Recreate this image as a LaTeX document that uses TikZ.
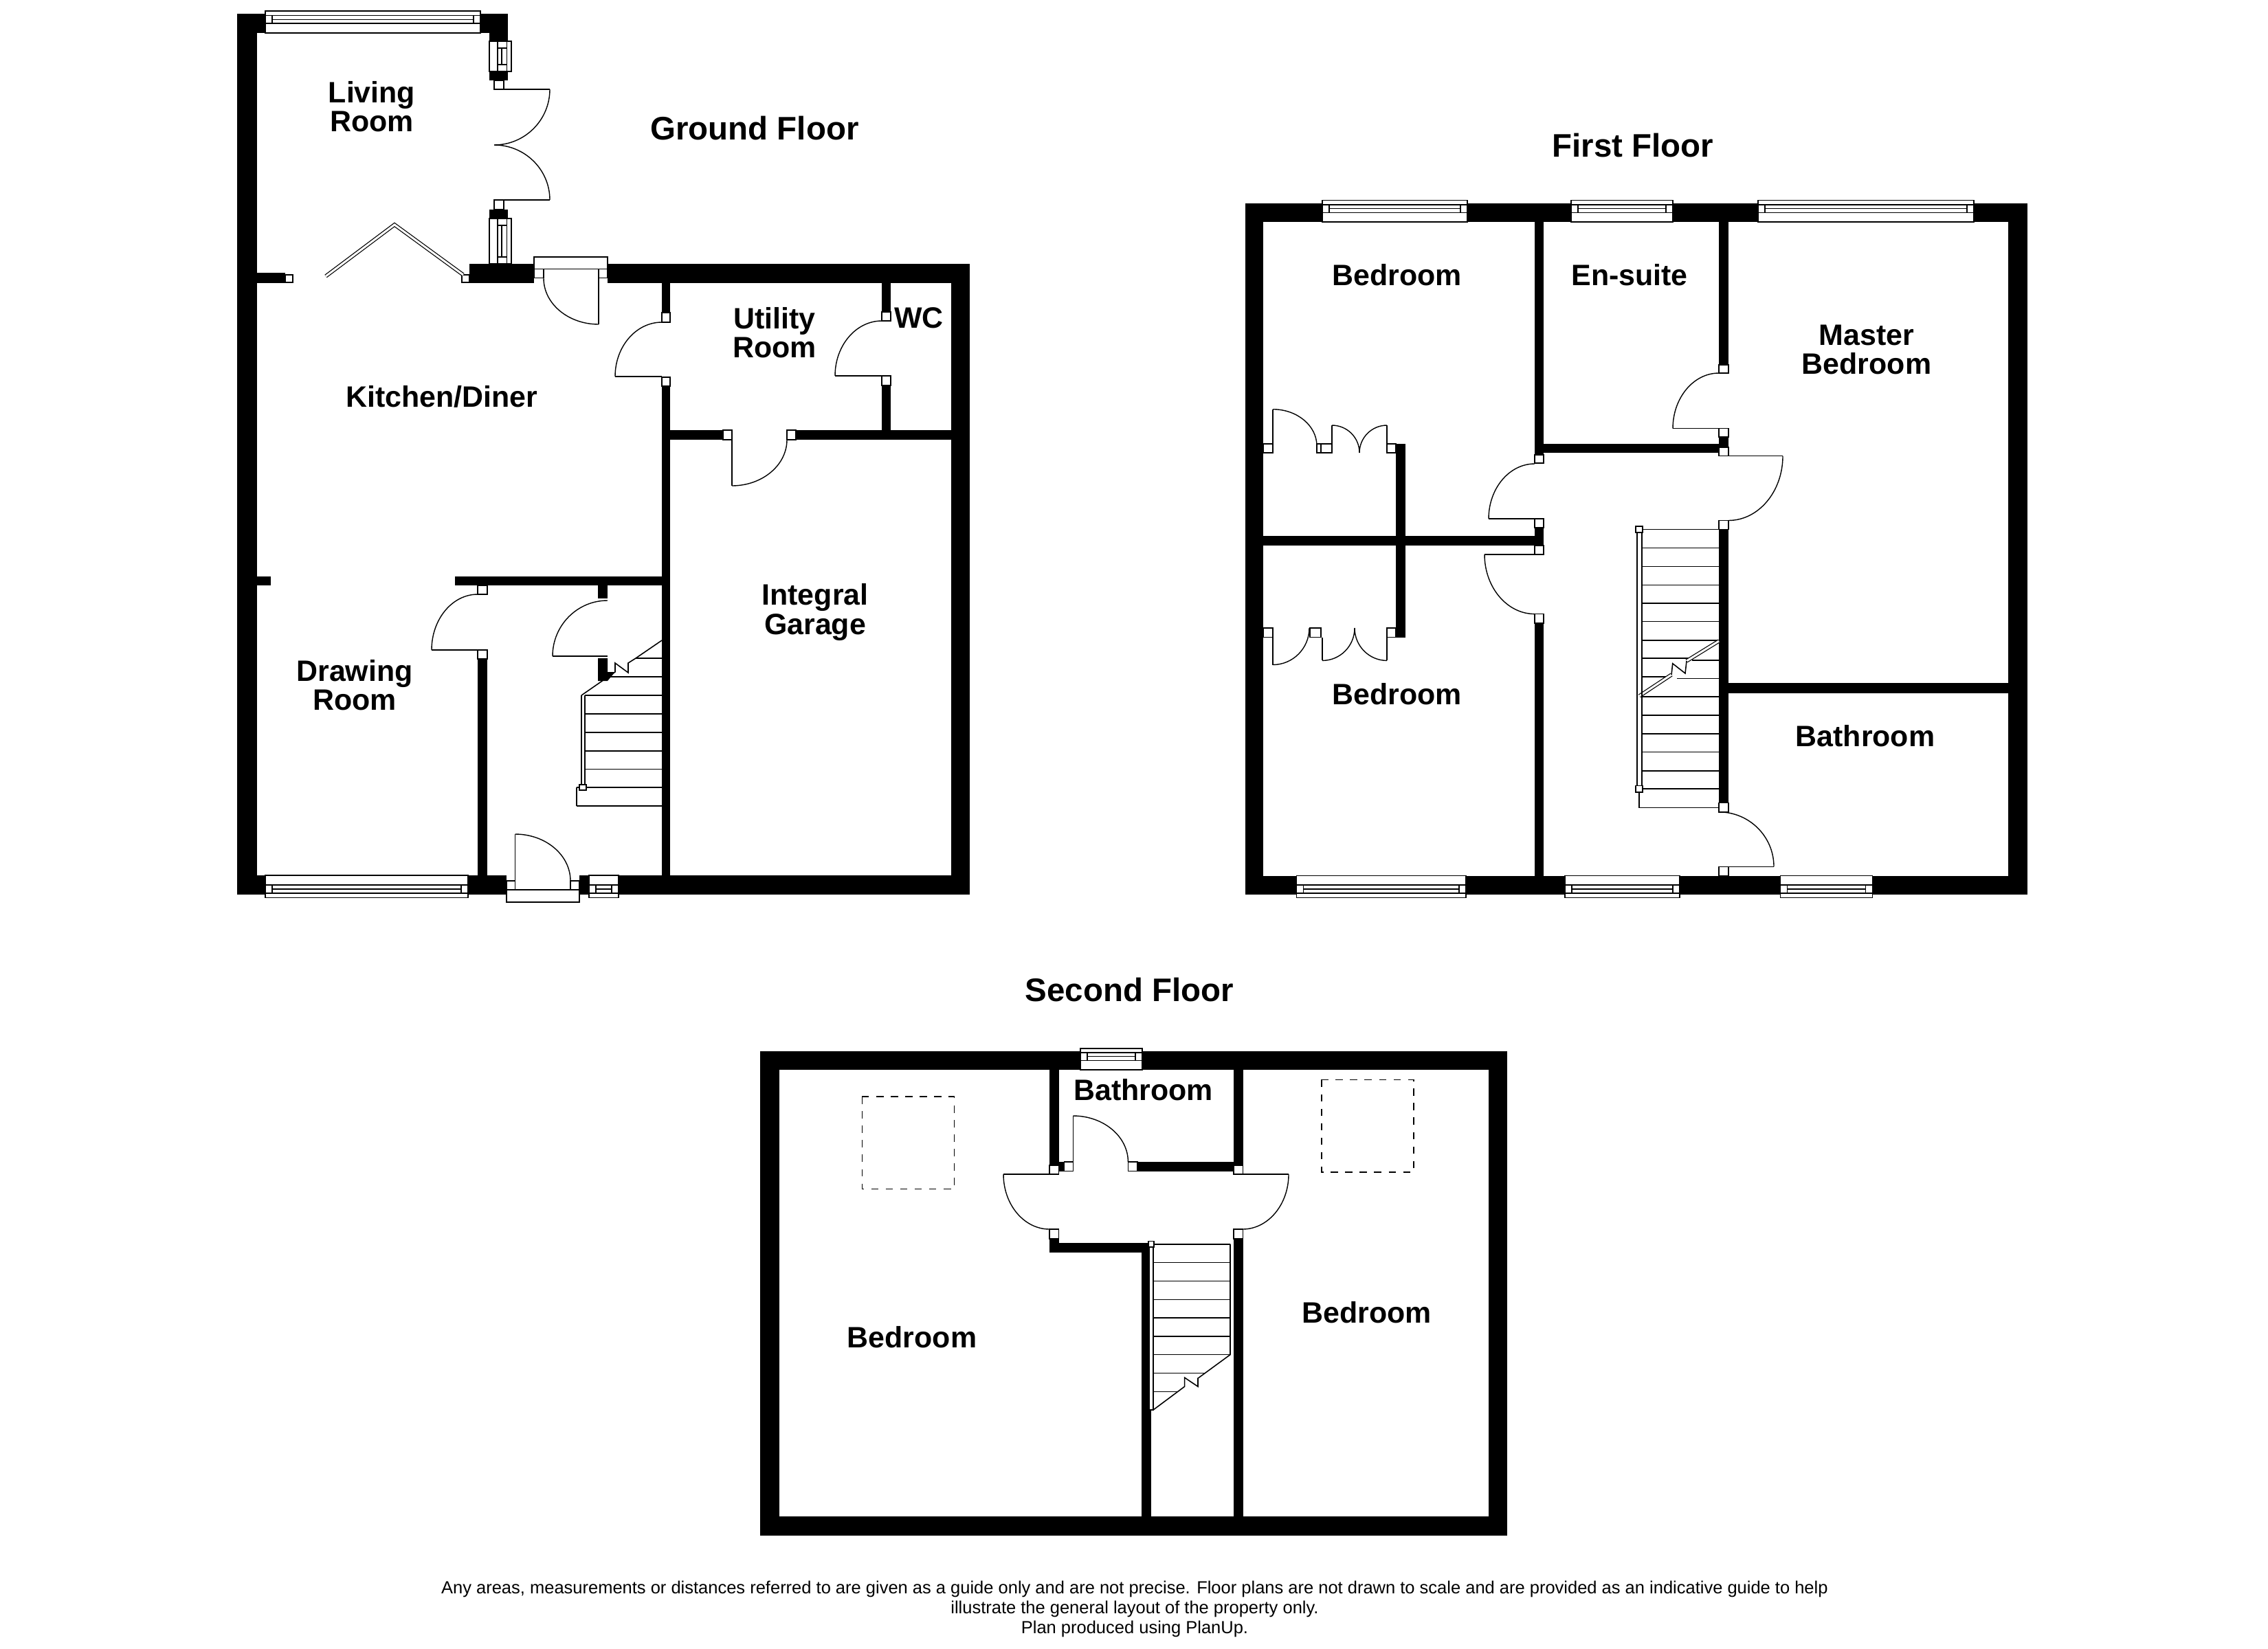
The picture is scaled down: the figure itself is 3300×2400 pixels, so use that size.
\documentclass[tikz,border=0pt]{standalone}
\usepackage{fontspec}
\setmainfont{Liberation Sans}
\usetikzlibrary{positioning}
\tikzset{
  wall/.style={fill=black,draw=none},
  jamb/.style={fill=white,draw=black,line width=0.4pt},
  leaf/.style={draw=black,line width=0.4pt},
  winframe/.style={fill=white,draw=black,line width=0.45pt},
  winline/.style={draw=black,line width=0.45pt},
  tread/.style={draw=black,line width=0.45pt},
  dbl/.style={draw=black,line width=0.35pt,double=white,double distance=0.03cm,miter limit=10},
  skylight/.style={draw=black,line width=0.35pt,dashed},
  roomlabel/.style={inner sep=0pt,align=center,font=\bfseries\fontsize{12.2pt}{11.95pt}\selectfont},
  floortitle/.style={inner sep=0pt,font=\bfseries\fontsize{13.5pt}{16pt}\selectfont},
  footnote/.style={inner sep=0pt,align=center,font=\fontsize{7.25pt}{8.3pt}\selectfont}
}
% quarter swing of a door, flat at the first point, upright at the second
\newcommand{\swing}[4]{\draw[leaf] (#1,#2) .. controls ({#1+0.552*(#3-#1)},#2) and (#3,{#4+0.552*(#2-#4)}) .. (#3,#4);}
% window in a horizontal wall: x1 x2 yinside youtside
\newcommand{\winH}[4]{%
  \pgfmathsetmacro{\wa}{#3+0.43*(#4-#3)}%
  \pgfmathsetmacro{\wb}{#3+0.615*(#4-#3)}%
  \pgfmathsetmacro{\wc}{#3+0.8*(#4-#3)}%
  \filldraw[winframe] (#1,#3) rectangle (#2,#4);
  \draw[winline] (#1,\wa) -- (#2,\wa) (#1,\wc) -- (#2,\wc) ({#1+10},\wa) -- ({#1+10},\wc)
    ({#2-10},\wa) -- ({#2-10},\wc) ({#1+10},\wb) -- ({#2-10},\wb);
}
% window in an upright wall: y1 y2 xinside xoutside
\newcommand{\winV}[4]{%
  \pgfmathsetmacro{\wa}{#3+0.38*(#4-#3)}%
  \pgfmathsetmacro{\wb}{#3+0.56*(#4-#3)}%
  \pgfmathsetmacro{\wc}{#3+0.8*(#4-#3)}%
  \filldraw[winframe] (#3,#1) rectangle (#4,#2);
  \draw[winline] (\wa,#1) -- (\wa,#2) (\wc,#1) -- (\wc,#2) (\wa,{#1+10}) -- (\wc,{#1+10})
    (\wa,{#2-10}) -- (\wc,{#2-10}) (\wb,{#1+10}) -- (\wb,{#2-10});
}
\begin{document}
\begin{tikzpicture}[x=0.01cm,y=-0.01cm]
  \useasboundingbox (0,0) rectangle (3300,2400);
  \fill[white] (0,0) rectangle (3300,2400);

  % walls, ground floor
  \foreach \xa/\ya/\xb/\yb in {345/20/373.5/1302, 373.5/20/739/48, 712/48/739/117, 712/305/739/384,
      683/384/777/412, 884/384/1411/412, 1384/412/1411/1302, 373.5/1274/737/1302, 843/1274/1411/1302,
      373.5/397/415/412, 963/412/975/455, 963/562/975/1274, 1283/412/1296/454, 1283/561/1296/626,
      975/626/1052/640, 1158/626/1384/640, 373.5/839/394/852, 662/839/963/852, 695/959/709/1274,
      870/852/884/871}
    \fill[wall] (\xa,\ya) rectangle (\xb,\yb);
  \fill[wall] (870,958) -- (884,958) -- (884,978) -- (895,978) -- (884,991) -- (870,991) -- cycle;
  % walls, first floor
  \foreach \xa/\ya/\xb/\yb in {1811.5/295.7/2949.5/323, 1811.5/323/1838/1302, 2922/323/2949.5/1302,
      1838/1274.6/2922/1302, 2233/323/2246/662, 2246/646/2501/659, 2501/636/2515/651, 2501/323/2515/531,
      2501/770.7/2515/1168.6, 2233/768/2246/794, 1838/780/2246/794, 2233/907/2246/1274.6,
      2031/646/2045/927.5, 2515/994/2922/1008.6}
    \fill[wall] (\xa,\ya) rectangle (\xb,\yb);
  % walls, second floor
  \foreach \xa/\ya/\xb/\yb in {1105.7/1530/2193/1556.8, 1105.7/1556.8/1133.6/2234.5, 2165.7/1556.8/2193/2234.5,
      1133.6/2207/2165.7/2234.5, 1527/1557/1540.7/1696, 1795/1557/1808.6/1696, 1527/1803/1540.7/1823.4,
      1527/1809/1671/1823.4, 1795/1803/1808.6/2207, 1660.7/1823/1675/2207, 1540.7/1691/1548.6/1704.5,
      1655/1691/1795/1704.5}
    \fill[wall] (\xa,\ya) rectangle (\xb,\yb);

  % door jambs
  \foreach \xa/\ya/\xb/\yb in {719/117/733/130, 719/291/733/305, 777/391.5/791/404.5, 871/391.5/884/404.5,
      415/400/426/411, 672/400/683/411, 963/455/975/469, 963/549/975/562, 1283/454/1296/467, 1283/547/1296/561,
      1052/626/1065/640, 1145/626/1158/640, 695/852/709/865, 695/946/709/959, 737/1282/749.5/1295, 830/1282/843/1295,
      1838/646/1852/659, 1916/646/1922/659, 1922/646/1938/659, 2018/646/2031/659, 1838/914/1852/927.5,
      1906/914/1922/927.5, 2018/914/2031/927.5, 2233/662/2246/674, 2233/755/2246/768, 2233/794/2246/807,
      2233/893.6/2246/907, 2501/531/2515/543, 2501/623.6/2515/636, 2501/651/2515/663.6, 2501/757.5/2515/770.7,
      2501/1168.6/2515/1181.8, 2501/1261.4/2515/1274.6,
      1527/1696/1540.7/1709, 1795/1696/1808.6/1709, 1527/1789/1540.7/1803, 1795/1789/1808.6/1803,
      1548.6/1691/1561.4/1704.5, 1641.4/1691/1655/1704.5}
    \filldraw[jamb] (\xa,\ya) rectangle (\xb,\yb);
  \filldraw[jamb] (777,374) rectangle (884,391.5);
  \filldraw[jamb] (737,1295) rectangle (843,1313);

  % door leaves, ground floor
  \draw[leaf] (733,130) -- (800,130) (733,291) -- (800,291);
  \swing{719}{211}{800}{130} \swing{719}{211}{800}{291}
  \draw[leaf] (871,391.5) -- (871,472);        \swing{871}{472}{791}{405}
  \draw[leaf] (895,548) -- (963,548);          \swing{963}{469}{895}{548}
  \draw[leaf] (1215,547) -- (1283,547);        \swing{1283}{467}{1215}{547}
  \draw[leaf] (1065,640) -- (1065,707);        \swing{1065}{707}{1145}{640}
  \draw[leaf] (628,946) -- (695,946);          \swing{695}{865}{628}{946}
  \draw[leaf] (804,955) -- (884,955);          \swing{884}{874}{804}{955}
  \draw[leaf] (749.5,1295) -- (749.5,1214);    \swing{749.5}{1214}{830}{1282}
  \draw[dbl] (474,402) -- (574,327) -- (674,400);
  % door leaves, first floor
  \draw[leaf] (2434,623.6) -- (2501,623.6);    \swing{2501}{543}{2434}{623.6}
  \draw[leaf] (2515,663.6) -- (2594,663.6);    \swing{2515}{757.5}{2594}{663.6}
  \draw[leaf] (2581,1261.4) -- (2515,1261.4);  \swing{2501}{1181.8}{2581}{1261.4}
  \draw[leaf] (2166,755) -- (2233,755);        \swing{2233}{675}{2166}{755}
  \draw[leaf] (2160,806.8) -- (2233,806.8);    \swing{2233}{893.6}{2160}{806.8}
  \draw[leaf] (1852,646) -- (1852,595.7);      \swing{1852}{595.7}{1916}{649}
  \draw[leaf] (1938,646) -- (1938,619);        \swing{1938}{619}{1978}{659}
  \draw[leaf] (2018,646) -- (2018,619);        \swing{2018}{619}{1978}{659}
  \draw[leaf] (1852,927.5) -- (1852,967.5);    \swing{1852}{967.5}{1905}{914}
  \draw[leaf] (1924,927.5) -- (1924,961.4);    \swing{1924}{961.4}{1971}{914}
  \draw[leaf] (2018,927.5) -- (2018,961.4);    \swing{2018}{961.4}{1971}{914}
  % door leaves, second floor
  \draw[leaf] (1527,1709) -- (1460,1709);      \swing{1527}{1789}{1460}{1709}
  \draw[leaf] (1808.6,1709) -- (1875,1709);    \swing{1808}{1789}{1875}{1709}
  \draw[leaf] (1561.4,1691) -- (1561.4,1624);  \swing{1561.4}{1624}{1641.4}{1691}

  % windows
  \winH{386}{699}{48}{16}
  \winV{60}{104}{712}{744}
  \winV{318}{384}{712}{744}
  \winH{386}{681}{1274}{1306.5}
  \winH{857}{900}{1274}{1306.5}
  \winH{1924}{2135}{323}{291.4}
  \winH{2286}{2434}{323}{291.4}
  \winH{2558}{2872}{323}{291.4}
  \winH{1886.5}{2133}{1274.6}{1306.4}
  \winH{2277}{2444}{1274.6}{1306.4}
  \winH{2590.5}{2724.5}{1274.6}{1306.4}
  \winH{1572}{1662}{1556.8}{1525.7}

  % stairs, ground floor
  \foreach \y in {1012,1039,1066,1093,1119.6}
    \draw[tread] (851,\y) -- (963,\y);
  \foreach \y in {1146,1173}
    \draw[tread] (839,\y) -- (963,\y);
  \draw[tread] (839,1146) -- (839,1173);
  \draw[tread] (884,985) -- (963,985) (925,958) -- (963,958);
  \draw[tread] (963,932) -- (925,958) -- (914,965) -- (914,979) -- (895,965) -- (895,978) -- (846,1012);
  \draw[tread] (846,1012) -- (846,1143) (851,1012) -- (851,1143);
  \filldraw[jamb] (843,1142) rectangle (853,1150);
  % stairs, first floor
  \foreach \y in {770.7,797.5,824.3,851.4,877.9,904.6,931.8}
    \draw[tread] (2389,\y) -- (2501,\y);
  \draw[tread] (2389,958) -- (2462,958) (2389,985) -- (2430,985);
  \draw[tread] (2462,961) -- (2501,961) (2440,987.5) -- (2501,987.5);
  \foreach \y in {1014,1041,1068,1094.6,1121.8,1148,1175.4}
    \draw[tread] (2389,\y) -- (2501,\y);
  \draw[tread] (2385,1148) -- (2385,1175.4) -- (2501,1175.4);
  \draw[dbl] (2501,933) -- (2454,962) (2432,982) -- (2385.4,1012.9);
  \draw[tread] (2454,962) -- (2452,980) -- (2433.7,965.7) -- (2432,982);
  \draw[tread] (2382,770) -- (2382,1145) (2389,770) -- (2389,1145);
  \filldraw[jamb] (2380,766) rectangle (2390,775);
  \filldraw[jamb] (2380,1143.6) rectangle (2390,1153);
  % stairs, second floor
  \foreach \y in {1810.7,1837.6,1864.5,1891.4,1918,1944.7,1971.6}
    \draw[tread] (1678,\y) -- (1790,\y);
  \draw[tread] (1678,1998.5) -- (1752,1998.5) (1678,2025.4) -- (1714,2025.4);
  \draw[tread] (1790,1810.7) -- (1790,1971.6) -- (1743,2006) -- (1743,2018) -- (1723.6,2005) -- (1723.6,2018) -- (1678,2052);
  \filldraw[jamb] (1672,1815) rectangle (1678,2052);
  \filldraw[jamb] (1671,1806.5) rectangle (1679,1815);

  % rooflights
  \draw[skylight] (1254.3,1596) rectangle (1388.6,1730.5);
  \draw[skylight] (1923,1571.4) rectangle (2057,1706);

  % titles
  \node[floortitle] (groundTitle) at (1098,187) {Ground Floor};
  \node[floortitle] (firstTitle) at (2376,212) {First Floor};
  \node[floortitle] (secondTitle) at (1643.5,1441) {Second Floor};

  % rooms
  \node[roomlabel] (livingRoom) at (541,155) {Living\\Room};
  \node[roomlabel] (utilityRoom) at (1127,484) {Utility\\Room};
  \node[roomlabel] (wcRoom) at (1337,463) {WC};
  \node[roomlabel] (kitchenDiner) at (643,577) {Kitchen/Diner};
  \node[roomlabel] (drawingRoom) at (516,997) {Drawing\\Room};
  \node[roomlabel] (garage) at (1186,891) {Integral\\Garage};
  \node[roomlabel] (bedroomA) at (2032.5,400) {Bedroom};
  \node[roomlabel] (enSuite) at (2371,400) {En-suite};
  \node[roomlabel] (masterBedroom) at (2716,509) {Master\\Bedroom};
  \node[roomlabel] (bedroomB) at (2032.5,1010) {Bedroom};
  \node[roomlabel] (bathroomA) at (2714,1071) {Bathroom};
  \node[roomlabel] (bathroomB) at (1663.5,1586.5) {Bathroom};
  \node[roomlabel] (bedroomC) at (1988.5,1910) {Bedroom};
  \node[roomlabel] (bedroomD) at (1327,1946) {Bedroom};

  \node[footnote] (disclaimer) at (1651,2342) {Any areas, measurements or distances referred to are given as a guide only and are not precise. Floor plans are not drawn to scale and are provided as an indicative guide to help\\illustrate the general layout of the property only.\\Plan produced using PlanUp.};
\end{tikzpicture}
\end{document}
